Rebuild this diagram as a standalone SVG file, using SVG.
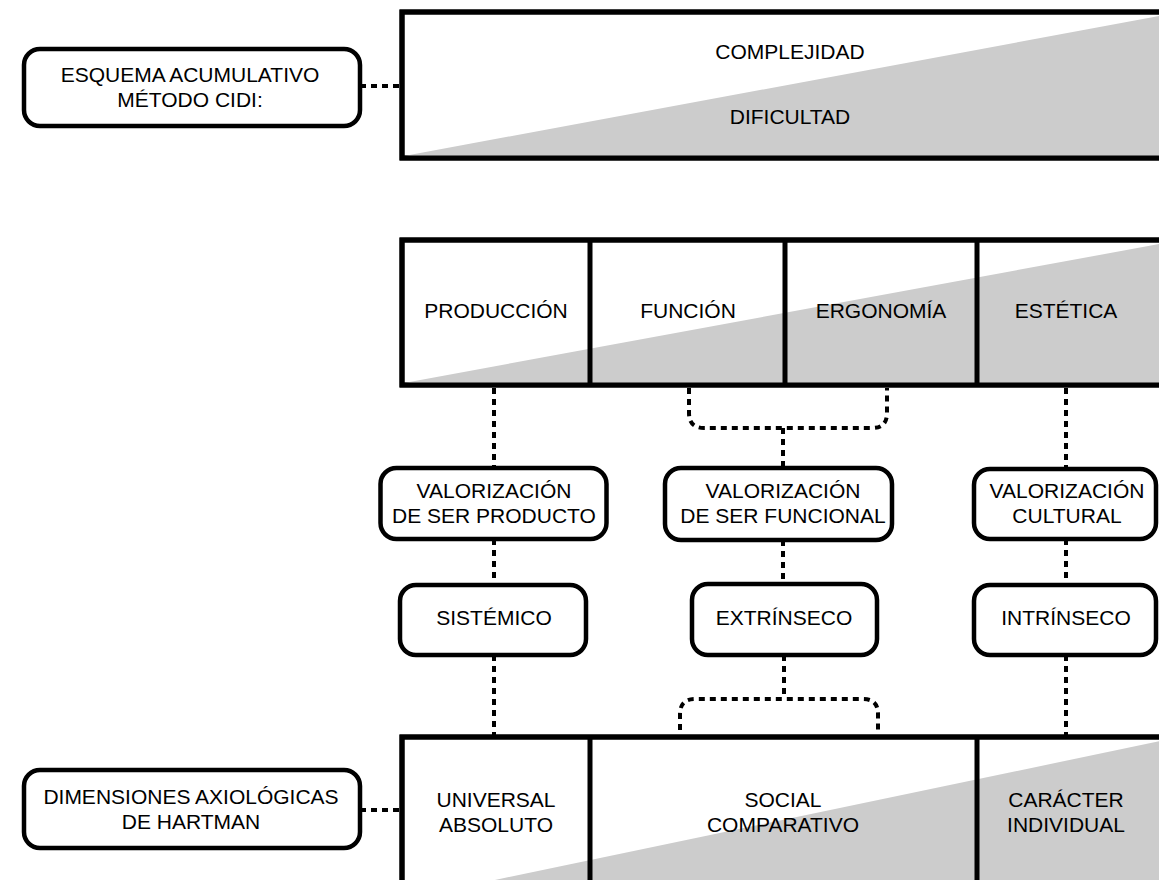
<svg xmlns="http://www.w3.org/2000/svg" width="1159" height="880" viewBox="0 0 1159 880">
  <defs>
    <style>
      .band { fill: #ffffff; stroke: #000; stroke-width: 5; }
      .shade { fill: #cccccc; stroke: none; }
      .divider { stroke: #000; stroke-width: 5; fill: none; }
      .node { fill: #ffffff; stroke: #000; stroke-width: 4.5; }
      .label { font-family: "Liberation Sans", Arial, sans-serif; font-size: 21px; fill: #000; text-anchor: middle; }
      .link { fill: none; stroke: #000; stroke-width: 4; stroke-dasharray: 6 5; }
    </style>
  </defs>
  <rect width="1159" height="880" fill="#ffffff"/>

  <!-- connectors -->
  <g id="connectors">
    <path class="link" d="M360,86 H402"/>
    <path class="link" d="M360,810 H402"/>
    <path class="link" d="M494,388 V468"/>
    <path class="link" d="M689,388 V413 Q689,428 704,428 H872 Q887,428 887,413 V388"/>
    <path class="link" d="M783,428 V468"/>
    <path class="link" d="M1066,388 V469"/>
    <path class="link" d="M494,539 V585"/>
    <path class="link" d="M783,540 V584"/>
    <path class="link" d="M1066,539 V585"/>
    <path class="link" d="M494,655 V735"/>
    <path class="link" d="M784,655 V699"/>
    <path class="link" d="M680,730 V714 Q680,699 695,699 H863 Q878,699 878,714 V730"/>
    <path class="link" d="M1066,655 V735"/>
  </g>

  <!-- band: complexity / difficulty -->
  <g id="band-complejidad">
    <rect class="band" x="402" y="12" width="768" height="146"/>
    <polygon class="shade" points="404,156 1170,14 1170,156"/>
    <rect x="402" y="12" width="768" height="146" fill="none" stroke="#000" stroke-width="5"/>
    <text class="label" x="790" y="59">COMPLEJIDAD</text>
    <text class="label" x="790" y="124">DIFICULTAD</text>
  </g>

  <!-- band: design factors -->
  <g id="band-factores">
    <rect class="band" x="402" y="240" width="768" height="145"/>
    <polygon class="shade" points="404,383 1170,242 1170,383"/>
    <rect x="402" y="240" width="768" height="145" fill="none" stroke="#000" stroke-width="5"/>
    <path class="divider" d="M590,240 V385 M785,240 V385 M977,240 V385"/>
    <text class="label" x="496" y="318">PRODUCCIÓN</text>
    <text class="label" x="688" y="318">FUNCIÓN</text>
    <text class="label" x="881" y="318">ERGONOMÍA</text>
    <text class="label" x="1066" y="318">ESTÉTICA</text>
  </g>

  <!-- band: axiological dimensions -->
  <g id="band-dimensiones">
    <rect class="band" x="402" y="737" width="768" height="164"/>
    <polygon class="shade" points="404,899 1170,739 1170,899"/>
    <rect x="402" y="737" width="768" height="164" fill="none" stroke="#000" stroke-width="5"/>
    <path class="divider" d="M590,737 V901 M977,737 V901"/>
    <text class="label" x="496" y="807">UNIVERSAL</text>
    <text class="label" x="496" y="832">ABSOLUTO</text>
    <text class="label" x="783" y="807">SOCIAL</text>
    <text class="label" x="783" y="832">COMPARATIVO</text>
    <text class="label" x="1066" y="807">CARÁCTER</text>
    <text class="label" x="1066" y="832">INDIVIDUAL</text>
  </g>

  <g id="node-esquema">
    <rect class="node" x="24" y="49" width="336" height="77" rx="16"/>
    <text class="label" x="190" y="82">ESQUEMA ACUMULATIVO</text>
    <text class="label" x="190" y="107">MÉTODO CIDI:</text>
  </g>

  <g id="node-dimensiones">
    <rect class="node" x="24" y="770" width="336" height="78" rx="16"/>
    <text class="label" x="191" y="804">DIMENSIONES AXIOLÓGICAS</text>
    <text class="label" x="191" y="829">DE HARTMAN</text>
  </g>

  <g id="node-val-producto">
    <rect class="node" x="380.5" y="468" width="226" height="71" rx="16"/>
    <text class="label" x="494" y="498">VALORIZACIÓN</text>
    <text class="label" x="494" y="523">DE SER PRODUCTO</text>
  </g>

  <g id="node-val-funcional">
    <rect class="node" x="665" y="468" width="227" height="72" rx="16"/>
    <text class="label" x="783" y="498">VALORIZACIÓN</text>
    <text class="label" x="783" y="523">DE SER FUNCIONAL</text>
  </g>

  <g id="node-val-cultural">
    <rect class="node" x="974" y="469" width="182" height="70" rx="16"/>
    <text class="label" x="1067" y="498">VALORIZACIÓN</text>
    <text class="label" x="1067" y="523">CULTURAL</text>
  </g>

  <g id="node-sistemico">
    <rect class="node" x="400" y="585" width="186" height="70" rx="16"/>
    <text class="label" x="494" y="625">SISTÉMICO</text>
  </g>

  <g id="node-extrinseco">
    <rect class="node" x="692" y="584" width="185" height="71" rx="16"/>
    <text class="label" x="784" y="625">EXTRÍNSECO</text>
  </g>

  <g id="node-intrinseco">
    <rect class="node" x="974" y="585" width="182" height="70" rx="16"/>
    <text class="label" x="1066" y="625">INTRÍNSECO</text>
  </g>
</svg>
